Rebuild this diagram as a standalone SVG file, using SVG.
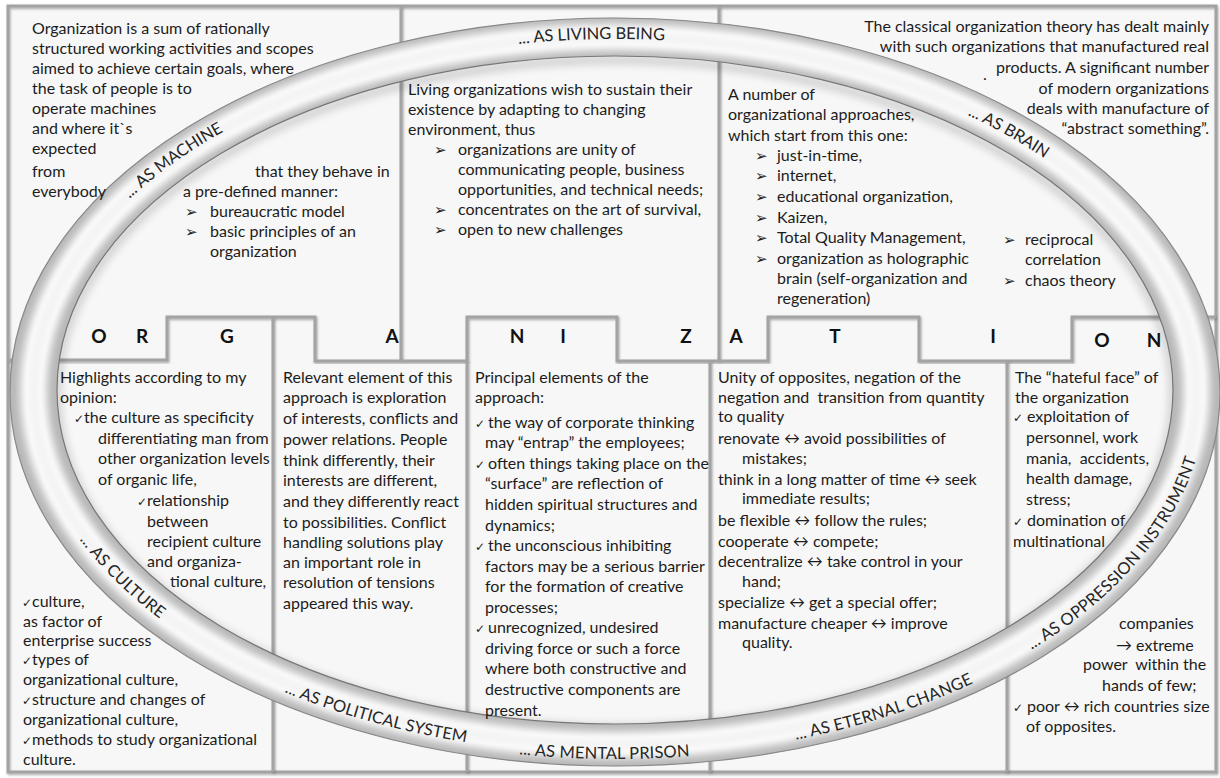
<svg xmlns="http://www.w3.org/2000/svg" width="1220" height="778" viewBox="0 0 1220 778">
<style>
.t{font-family:Lato,"Liberation Sans","DejaVu Sans",sans-serif;font-size:16px;fill:#1c1c1c}
.r{text-anchor:end}
.bu{font-family:"DejaVu Sans",sans-serif;font-size:15px;fill:#1c1c1c}
.ck{font-family:"DejaVu Sans",sans-serif;font-size:12px;fill:#1c1c1c}
.L{font-family:Lato,"Liberation Sans",sans-serif;font-weight:bold;font-size:19px;fill:#111;text-anchor:middle}
.rl{font-family:Lato,"Liberation Sans",sans-serif;font-size:16.5px;fill:#262626;text-anchor:middle}
.ln{fill:none;stroke:#a3a3a3;stroke-width:3;filter:url(#sh)}
.pre{white-space:pre}
</style>
<defs>
<filter id="sh" x="-5%" y="-5%" width="110%" height="110%"><feDropShadow dx="1" dy="1.5" stdDeviation="0.8" flood-color="#555" flood-opacity="0.5"/></filter>
<filter id="bl4" x="-10%" y="-10%" width="120%" height="120%"><feGaussianBlur stdDeviation="4"/></filter>
<filter id="bl2" x="-10%" y="-10%" width="120%" height="120%"><feGaussianBlur stdDeviation="2"/></filter>
<clipPath id="bandClip"><path clip-rule="evenodd" d="M10,392 A605,374 0 1 1 1220,392 A605,374 0 1 1 10,392 Z M57,390 A558,334 0 1 0 1173,390 A558,334 0 1 0 57,390 Z"/></clipPath>
<path id="topArc" d="M33.5,391 A581.5,354 0 0 1 1196.5,391"/>
<path id="botArc" d="M33.5,391 A581.5,354 0 0 0 1196.5,391"/>
</defs>
<rect x="0" y="0" width="1220" height="778" fill="#ffffff"/>
<rect x="8" y="6" width="1208" height="766" fill="#f7f7f7"/>

<g id="connectors">
<rect class="ln" x="8" y="6" width="1208" height="766"/>
<path class="ln" d="M401,6 V360 M719,6 V361"/>
<path class="ln" d="M8,360 H167 V317 H315 V361 H467 V317 H617 V361 H768 V317 H919 V361 H1072 V317 H1216"/>
<path class="ln" d="M273,317 V772 M467,361 V772 M710,361 V772 M1007,361 V772"/>
</g>

<g id="ring">
<ellipse cx="615" cy="394" rx="558" ry="334" fill="none" stroke="#000" stroke-opacity="0.22" stroke-width="6" filter="url(#bl4)"/>
<path fill="#b7b7b7" fill-rule="evenodd" d="M10,392 A605,374 0 1 1 1220,392 A605,374 0 1 1 10,392 Z M57,390 A558,334 0 1 0 1173,390 A558,334 0 1 0 57,390 Z"/>
<g clip-path="url(#bandClip)">
<ellipse cx="615" cy="391" rx="581.5" ry="354" fill="none" stroke="#ffffff" stroke-width="26" filter="url(#bl4)"/>
<ellipse cx="615" cy="391" rx="581.5" ry="354" fill="none" stroke="#f4f4f4" stroke-width="12" filter="url(#bl2)"/>
</g>
<ellipse cx="615" cy="392" rx="605" ry="374" fill="none" stroke="#888" stroke-width="1.2"/>
<ellipse cx="615" cy="390" rx="558" ry="334" fill="none" stroke="#777" stroke-width="1.2"/>
<text class="rl"><textPath href="#topArc" startOffset="280"><tspan dy="2">... AS MACHINE</tspan></textPath></text>
<text class="rl"><textPath href="#topArc" startOffset="722"><tspan dy="2">... AS LIVING BEING</tspan></textPath></text>
<text class="rl"><textPath href="#topArc" startOffset="1155"><tspan dy="5">... AS BRAIN</tspan></textPath></text>
<text class="rl"><textPath href="#botArc" startOffset="212"><tspan dy="6">... AS CULTURE</tspan></textPath></text>
<text class="rl"><textPath href="#botArc" startOffset="504"><tspan dy="9">... AS POLITICAL SYSTEM</tspan></textPath></text>
<text class="rl"><textPath href="#botArc" startOffset="735"><tspan dy="14">... AS MENTAL PRISON</tspan></textPath></text>
<text class="rl"><textPath href="#botArc" startOffset="1017"><tspan dy="12">... AS ETERNAL CHANGE</tspan></textPath></text>
<text class="rl"><textPath href="#botArc" startOffset="1300"><tspan dy="10">... AS OPPRESSION INSTRUMENT</tspan></textPath></text>
</g>

<g id="machine">
<text class="t" x="32" y="34">Organization is a sum of rationally</text>
<text class="t" x="32" y="54">structured working activities and scopes</text>
<text class="t" x="32" y="74">aimed to achieve certain goals, where</text>
<text class="t" x="32" y="94">the task of people is to</text>
<text class="t" x="32" y="114">operate machines</text>
<text class="t" x="32" y="134">and where it`s</text>
<text class="t" x="32" y="154">expected</text>
<text class="t" x="32" y="177">from</text>
<text class="t" x="32" y="197">everybody</text>
<text class="t" x="255" y="177">that they behave in</text>
<text class="t" x="183" y="197">a pre-defined manner:</text>
<text class="bu" x="185" y="217">➢</text><text class="t" x="210" y="217">bureaucratic model</text>
<text class="bu" x="185" y="237">➢</text><text class="t" x="210" y="237">basic principles of an</text>
<text class="t" x="210" y="257">organization</text>
</g>

<g id="living">
<text class="t" x="408" y="95">Living organizations wish to sustain their</text>
<text class="t" x="408" y="115">existence by adapting to changing</text>
<text class="t" x="408" y="135">environment, thus</text>
<text class="bu" x="434" y="155">➢</text><text class="t" x="458" y="155">organizations are unity of</text>
<text class="t" x="458" y="175">communicating people, business</text>
<text class="t" x="458" y="195">opportunities, and technical needs;</text>
<text class="bu" x="434" y="215">➢</text><text class="t" x="458" y="215">concentrates on the art of survival,</text>
<text class="bu" x="434" y="235">➢</text><text class="t" x="458" y="235">open to new challenges</text>
</g>

<g id="brain">
<text class="t r" x="1209" y="32">The classical organization theory has dealt mainly</text>
<text class="t r" x="1209" y="52">with such organizations that manufactured real</text>
<text class="t r" x="1209" y="73">products. A significant number</text>
<text class="t r" x="1209" y="94">of modern organizations</text>
<text class="t r" x="1209" y="114">deals with manufacture of</text>
<text class="t r" x="1209" y="134">“abstract something”.</text>
<text class="t" x="983" y="80">.</text>
<text class="t" x="728" y="100">A number of</text>
<text class="t" x="728" y="120">organizational approaches,</text>
<text class="t" x="728" y="141">which start from this one:</text>
<text class="bu" x="755" y="161">➢</text><text class="t" x="777" y="161">just-in-time,</text>
<text class="bu" x="755" y="181">➢</text><text class="t" x="777" y="181">internet,</text>
<text class="bu" x="755" y="202">➢</text><text class="t" x="777" y="202">educational organization,</text>
<text class="bu" x="755" y="223">➢</text><text class="t" x="777" y="223">Kaizen,</text>
<text class="bu" x="755" y="243">➢</text><text class="t" x="777" y="243">Total Quality Management,</text>
<text class="bu" x="755" y="264">➢</text><text class="t" x="777" y="264">organization as holographic</text>
<text class="t" x="777" y="284">brain (self-organization and</text>
<text class="t" x="777" y="304">regeneration)</text>
<text class="bu" x="1003" y="245">➢</text><text class="t" x="1025" y="245">reciprocal</text>
<text class="t" x="1025" y="265">correlation</text>
<text class="bu" x="1003" y="286">➢</text><text class="t" x="1025" y="286">chaos theory</text>
</g>

<g id="letters">
<text class="L" x="99" y="343">O</text>
<text class="L" x="142" y="343">R</text>
<text class="L" x="227" y="343">G</text>
<text class="L" x="392" y="343">A</text>
<text class="L" x="517" y="343">N</text>
<text class="L" x="563" y="343">I</text>
<text class="L" x="686" y="343">Z</text>
<text class="L" x="736" y="343">A</text>
<text class="L" x="835" y="343">T</text>
<text class="L" x="993" y="343">I</text>
<text class="L" x="1102" y="347">O</text>
<text class="L" x="1154" y="347">N</text>
</g>

<g id="culture">
<text class="t" x="60" y="383">Highlights according to my</text>
<text class="t" x="60" y="403">opinion:</text>
<text class="ck" x="74" y="423">✓</text><text class="t" x="84" y="423">the culture as specificity</text>
<text class="t" x="98" y="444">differentiating man from</text>
<text class="t" x="98" y="464">other organization levels</text>
<text class="t" x="98" y="485">of organic life,</text>
<text class="ck" x="137" y="506">✓</text><text class="t" x="147" y="506">relationship</text>
<text class="t" x="147" y="527">between</text>
<text class="t" x="147" y="547">recipient culture</text>
<text class="t" x="147" y="567">and organiza-</text>
<text class="t" x="170" y="587">tional culture,</text>
<text class="ck" x="22" y="607">✓</text><text class="t" x="32" y="607">culture,</text>
<text class="t" x="23" y="627">as factor of</text>
<text class="t" x="23" y="646">enterprise success</text>
<text class="ck" x="22" y="665">✓</text><text class="t" x="32" y="665">types of</text>
<text class="t" x="23" y="685">organizational culture,</text>
<text class="ck" x="22" y="705">✓</text><text class="t" x="32" y="705">structure and changes of</text>
<text class="t" x="23" y="725">organizational culture,</text>
<text class="ck" x="22" y="745">✓</text><text class="t" x="32" y="745">methods to study organizational</text>
<text class="t" x="23" y="765">culture.</text>
</g>

<g id="political">
<text class="t" x="283" y="383">Relevant element of this</text>
<text class="t" x="283" y="403">approach is exploration</text>
<text class="t" x="283" y="424">of interests, conflicts and</text>
<text class="t" x="283" y="445">power relations. People</text>
<text class="t" x="283" y="466">think differently, their</text>
<text class="t" x="283" y="486">interests are different,</text>
<text class="t" x="283" y="507">and they differently react</text>
<text class="t" x="283" y="528">to possibilities. Conflict</text>
<text class="t" x="283" y="548">handling solutions play</text>
<text class="t" x="283" y="568">an important role in</text>
<text class="t" x="283" y="588">resolution of tensions</text>
<text class="t" x="283" y="609">appeared this way.</text>
</g>

<g id="prison">
<text class="t" x="475" y="383">Principal elements of the</text>
<text class="t" x="475" y="403">approach:</text>
<text class="ck" x="475" y="428">✓</text><text class="t" x="488" y="428">the way of corporate thinking</text>
<text class="t" x="485" y="448">may “entrap” the employees;</text>
<text class="ck" x="475" y="469">✓</text><text class="t" x="488" y="469">often things taking place on the</text>
<text class="t" x="485" y="489">“surface” are reflection of</text>
<text class="t" x="485" y="510">hidden spiritual structures and</text>
<text class="t" x="485" y="531">dynamics;</text>
<text class="ck" x="475" y="551">✓</text><text class="t" x="488" y="551">the unconscious inhibiting</text>
<text class="t" x="485" y="572">factors may be a serious barrier</text>
<text class="t" x="485" y="592">for the formation of creative</text>
<text class="t" x="485" y="613">processes;</text>
<text class="ck" x="475" y="633">✓</text><text class="t" x="488" y="633">unrecognized, undesired</text>
<text class="t" x="485" y="654">driving force or such a force</text>
<text class="t" x="485" y="674">where both constructive and</text>
<text class="t" x="485" y="695">destructive components are</text>
<text class="t" x="485" y="716">present.</text>
</g>

<g id="change">
<text class="t" x="718" y="383">Unity of opposites, negation of the</text>
<text class="t pre" x="718" y="403">negation and  transition from quantity</text>
<text class="t" x="718" y="422">to quality</text>
<text class="t" x="718" y="444">renovate ↔ avoid possibilities of</text>
<text class="t" x="742" y="464">mistakes;</text>
<text class="t" x="718" y="485">think in a long matter of time ↔ seek</text>
<text class="t" x="742" y="504">immediate results;</text>
<text class="t" x="718" y="526">be flexible ↔ follow the rules;</text>
<text class="t" x="718" y="547">cooperate ↔ compete;</text>
<text class="t" x="718" y="567">decentralize ↔ take control in your</text>
<text class="t" x="742" y="587">hand;</text>
<text class="t" x="718" y="608">specialize ↔ get a special offer;</text>
<text class="t" x="718" y="629">manufacture cheaper ↔ improve</text>
<text class="t" x="742" y="648">quality.</text>
</g>

<g id="oppression">
<text class="t" x="1015" y="383">The “hateful face” of</text>
<text class="t" x="1015" y="403">the organization</text>
<text class="ck" x="1013" y="422">✓</text><text class="t" x="1027" y="422">exploitation of</text>
<text class="t" x="1026" y="443">personnel, work</text>
<text class="t pre" x="1026" y="464">mania,  accidents,</text>
<text class="t" x="1026" y="484">health damage,</text>
<text class="t" x="1026" y="505">stress;</text>
<text class="ck" x="1013" y="526">✓</text><text class="t" x="1027" y="526">domination of</text>
<text class="t" x="1013" y="547">multinational</text>
<text class="t" x="1119" y="629">companies</text>
<text class="t" x="1116" y="651">→ extreme</text>
<text class="t pre" x="1083" y="670">power  within the</text>
<text class="t" x="1102" y="691">hands of few;</text>
<text class="ck" x="1013" y="712">✓</text><text class="t" x="1027" y="712">poor ↔ rich countries size</text>
<text class="t" x="1026" y="732">of opposites.</text>
</g>
</svg>
